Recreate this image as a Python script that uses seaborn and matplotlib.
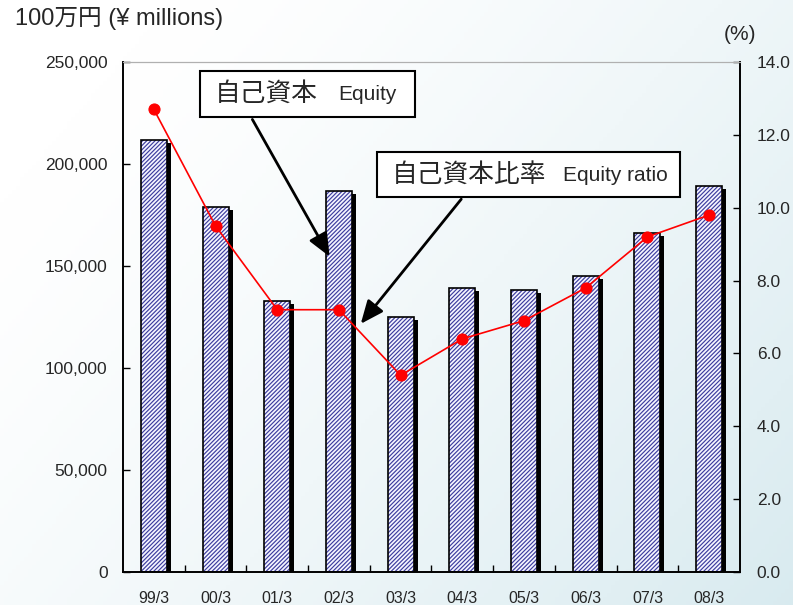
import numpy as np
import pandas as pd
import matplotlib.pyplot as plt
import seaborn as sns
from matplotlib import transforms
from matplotlib.patches import Rectangle

# 自己資本 (100万円) と 自己資本比率 (%)
periods = ['99/3', '00/3', '01/3', '02/3', '03/3', '04/3', '05/3', '06/3', '07/3', '08/3']
equity = [212000, 179000, 133000, 187000, 125000, 139000, 138000, 145000, 166000, 189000]
ratio = [12.7, 9.5, 7.2, 7.2, 5.4, 6.4, 6.9, 7.8, 9.2, 9.8]

sns.set_style('white')
plt.rcParams['font.family'] = ['Liberation Sans', 'Noto Sans CJK JP', 'DejaVu Sans']
plt.rcParams['hatch.linewidth'] = 0.85

W, H = 793, 605
fig = plt.figure(figsize=(W / 100, H / 100), dpi=100)


def fx(x, y):
    # image pixels -> figure fraction
    return (x / W, 1 - y / H)


# background gradient
bg = fig.add_axes([0, 0, 1, 1], zorder=-10)
gx, gy = np.meshgrid(np.linspace(0, 1, 200), np.linspace(0, 1, 150))
t = np.clip(0.7 * gx + 0.45 * gy - 0.15, 0, 1) ** 1.3
c0 = np.array([1.0, 1.0, 1.0])
c1 = np.array([0.85, 0.92, 0.94])
img = c0 + (c1 - c0) * t[..., None]
bg.imshow(img, aspect='auto', extent=[0, 1, 0, 1], origin='upper')
bg.axis('off')

# main axes
x0, y0 = fx(123, 572)
ax = fig.add_axes([x0, y0, (740 - 123) / W, (572 - 62) / H])
ax.patch.set_alpha(0)

df = pd.DataFrame({'period': periods, 'equity': equity})

# shadow bars
sns.barplot(data=df, x='period', y='equity', color='black', width=0.42,
            saturation=1, linewidth=0, ax=ax)
shift = transforms.ScaledTranslation(4 / 100, -3 / 100, fig.dpi_scale_trans)
for p in ax.patches:
    p.set_transform(ax.transData + shift)
n_shadow = len(ax.patches)

# hatched bars
sns.barplot(data=df, x='period', y='equity', color='#f4f4ff', width=0.42,
            saturation=1, edgecolor='#3c3c9e', hatch='////////', linewidth=0, ax=ax)
for p in list(ax.patches[n_shadow:]):
    ax.add_patch(Rectangle(p.get_xy(), p.get_width(), p.get_height(),
                           fill=False, edgecolor='black', linewidth=1.2, zorder=3))

ax.set_xlim(-0.5, len(periods) - 0.5)
ax.set_ylim(0, 250000)
ax.set_yticks(np.arange(0, 250001, 50000))
ax.set_yticklabels([f'{v:,}' for v in range(0, 250001, 50000)], fontsize=12.5)
ax.set_xlabel('')
ax.set_ylabel('')
ax.set_xticks(range(len(periods)))
ax.set_xticklabels(periods, fontsize=11.5)
ax.set_xticks(np.arange(0.5, len(periods) - 1, 1), minor=True)
ax.tick_params(axis='x', which='major', length=0, pad=14)
ax.tick_params(axis='x', which='minor', direction='in', length=5, width=1, color='black', bottom=True)
ax.tick_params(axis='y', direction='in', length=5, width=1, color='black', left=True, pad=11)

# ratio line
ax2 = ax.twinx()
sns.lineplot(x=np.arange(len(periods)), y=ratio, color='red', linewidth=1.2,
             marker='o', markersize=8, markeredgecolor='red', ax=ax2, zorder=5)
ax2.set_ylim(0, 14)
ax2.set_yticks(np.arange(0, 14.1, 2))
ax2.set_yticklabels([f'{v:.1f}' for v in np.arange(0, 14.1, 2)], fontsize=12.5)
ax2.tick_params(axis='y', direction='in', length=5, width=1, color='black', right=True, pad=12)
ax2.set_ylabel('')

for a in (ax, ax2):
    for side in ('left', 'right', 'bottom'):
        a.spines[side].set_color('black')
        a.spines[side].set_linewidth(1.2)
    a.spines['top'].set_color('#b0b0b0')
    a.spines['top'].set_linewidth(0.8)

# axis titles
fig.text(*fx(15, 19), '100万円 (¥ millions)', fontsize=17, va='center', ha='left')
fig.text(*fx(740, 34), '(%)', fontsize=15, va='center', ha='center')

# callout boxes
def callout(x1, y1, x2, y2, jp, en, en_x):
    bx, by = fx(x1, y2)
    fig.patches.append(Rectangle((bx, by), (x2 - x1) / W, (y2 - y1) / H,
                                 transform=fig.transFigure, facecolor='white',
                                 edgecolor='black', linewidth=1.5, zorder=6))
    ym = (y1 + y2) / 2
    fig.text(*fx(x1 + 15, ym), jp, fontsize=18.5, va='center', ha='left',
             family=['Noto Sans CJK JP'], zorder=7)
    fig.text(*fx(en_x, ym + 1), en, fontsize=15, va='center', ha='left', zorder=7)


callout(200, 71, 415, 117, '自己資本', 'Equity', 338)
callout(377, 152, 680, 197, '自己資本比率', 'Equity ratio', 563)

arrow = dict(arrowstyle='-|>,head_length=1.4,head_width=0.6', color='black', lw=2)
ax.annotate('', xy=fx(331, 259), xytext=fx(251, 117), xycoords='figure fraction',
            textcoords='figure fraction', arrowprops=arrow, zorder=8)
ax.annotate('', xy=fx(359, 326), xytext=fx(463, 197), xycoords='figure fraction',
            textcoords='figure fraction', arrowprops=arrow, zorder=8)

fig.savefig('out.png', dpi=100)
